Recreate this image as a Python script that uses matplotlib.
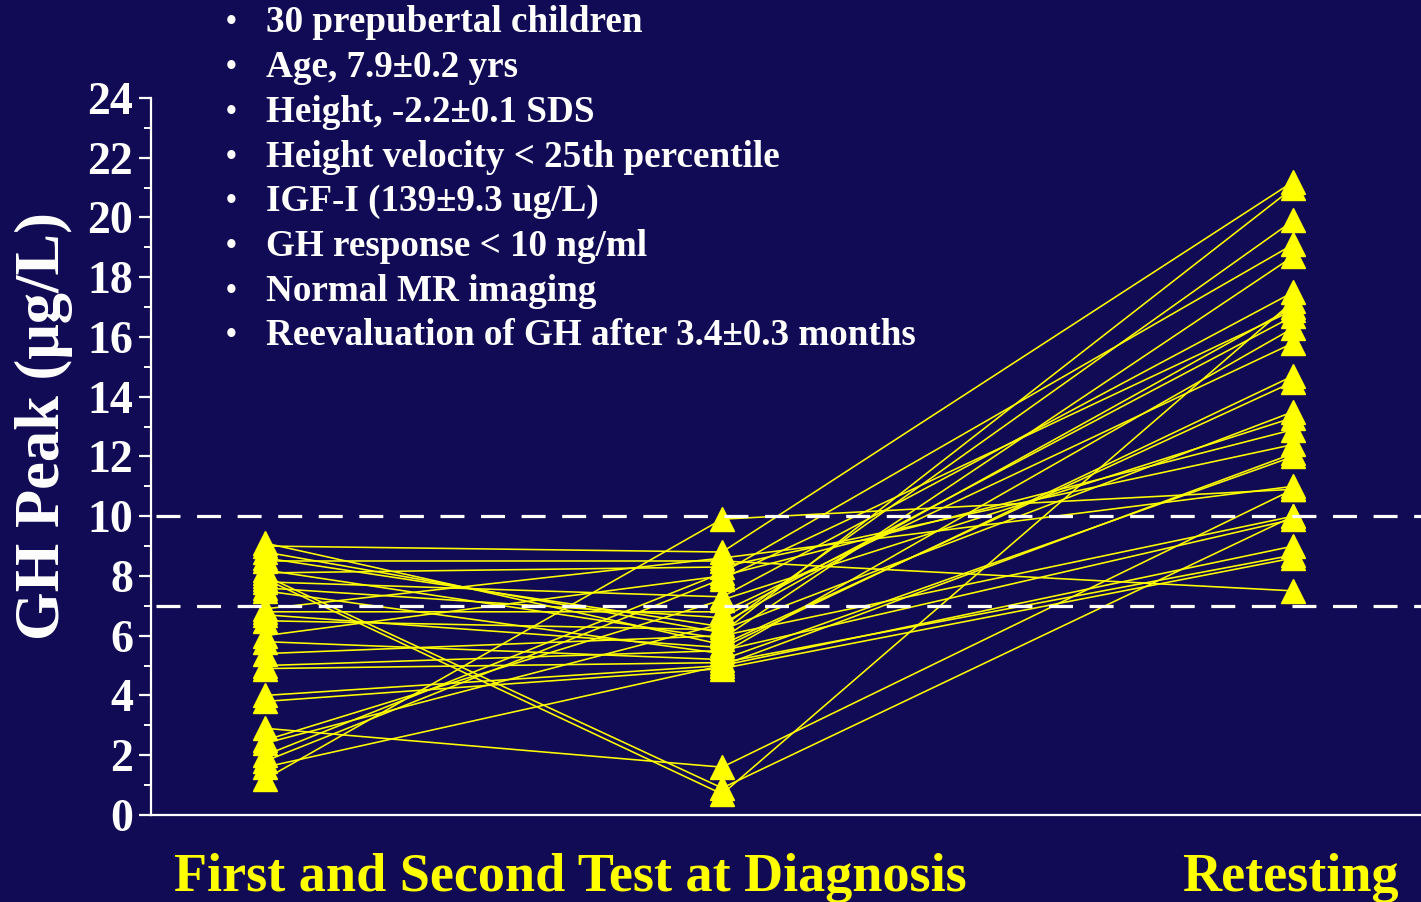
import matplotlib
matplotlib.use("Agg")
import matplotlib.pyplot as plt
from matplotlib.ticker import MultipleLocator

# GH peak (ug/L) per child: two tests at diagnosis and the retest
test_1 = [1.2, 8.0, 7.9, 2.9, 2.0, 1.8, 2.5, 1.6, 4.0, 3.8,
          9.1, 9.0, 8.8, 8.6, 8.5, 8.2, 8.1, 7.8, 7.6, 7.5,
          6.9, 6.8, 6.7, 6.5, 6.0, 5.8, 5.4, 5.0, 4.9, 2.4]
test_2 = [9.9, 0.9, 0.7, 1.6, 8.1, 7.9, 7.2, 5.0, 5.0, 4.9,
          5.7, 8.8, 6.1, 6.3, 8.5, 5.9, 8.3, 7.3, 6.6, 5.4,
          8.6, 6.8, 5.6, 6.2, 8.0, 5.2, 6.0, 5.5, 5.1, 6.4]
retest = [10.9, 10.0, 17.2, 10.9, 19.1, 16.9, 13.3, 12.1, 9.0, 8.6,
          14.5, 21.2, 21.0, 19.9, 7.5, 18.7, 12.4, 17.5, 16.7, 16.3,
          11.0, 15.8, 14.7, 13.5, 12.9, 12.0, 10.0, 9.9, 8.7, 17.0]

x_pos = [1.0, 2.0, 3.25]
cutoffs = [10, 7]

bullets = [
    "30 prepubertal children",
    "Age, 7.9\u00b10.2 yrs",
    "Height, -2.2\u00b10.1 SDS",
    "Height velocity < 25th percentile",
    "IGF-I (139\u00b19.3 ug/L)",
    "GH response < 10 ng/ml",
    "Normal MR imaging",
    "Reevaluation of GH after 3.4\u00b10.3 months",
]

BG = "#110a55"
YEL = "#ffff00"
SERIF = ["Liberation Serif", "DejaVu Serif"]

fig = plt.figure(figsize=(14.21, 9.02), dpi=100, facecolor=BG)
ax = fig.add_axes([0.1063, 0.0965, 0.8937, 0.795])
ax.set_facecolor(BG)

for a, b, c in zip(test_1, test_2, retest):
    ax.plot(x_pos, [a, b, c], color=YEL, lw=1.15, zorder=2)
    ax.plot(x_pos, [a, b, c], ls="none", marker="^", ms=17.5,
            color=YEL, mec=YEL, zorder=3)

for yv in cutoffs:
    ax.axhline(yv, color="white", lw=2.3, ls=(0, (7.5, 5.2)),
               xmin=0.004, zorder=4)

ax.set_xlim(0.7505, 3.529)
ax.set_ylim(0, 24)
ax.yaxis.set_major_locator(MultipleLocator(2))
ax.yaxis.set_minor_locator(MultipleLocator(1))
ax.set_xticks([])

for side in ["top", "right"]:
    ax.spines[side].set_visible(False)
for side in ["left", "bottom"]:
    ax.spines[side].set_color("white")
    ax.spines[side].set_linewidth(1.6)

ax.tick_params(axis="y", which="major", length=9, width=1.6,
               color="white", labelcolor="white", pad=4)
ax.tick_params(axis="y", which="minor", length=5, width=1.4, color="white")
for lab in ax.get_yticklabels():
    lab.set_fontfamily(SERIF)
    lab.set_fontweight("bold")
    lab.set_fontsize(33)

fig.text(0.031, 0.528, "GH Peak (\u03bcg/L)", rotation=90, color="white",
         fontsize=45, fontweight="bold", family=SERIF,
         ha="center", va="center")

# bullet list at the top
for i, line in enumerate(bullets):
    yy = 1 - (23 + i * 44.7) / 902
    fig.text(231 / 1421, yy, "\u2022", color="white", fontsize=22,
             fontweight="bold", family=SERIF, ha="center", va="center")
    fig.text(266 / 1421, yy, line, color="white", fontsize=26.7,
             fontweight="bold", family=SERIF, ha="left", va="center")

fig.text(570 / 1421, 1 - 878 / 902, "First and Second Test at Diagnosis",
         color=YEL, fontsize=39, fontweight="bold", family=SERIF,
         ha="center", va="center")
fig.text(1290 / 1421, 1 - 878 / 902, "Retesting",
         color=YEL, fontsize=39, fontweight="bold", family=SERIF,
         ha="center", va="center")

fig.savefig("out.png", dpi=100, facecolor=BG)
